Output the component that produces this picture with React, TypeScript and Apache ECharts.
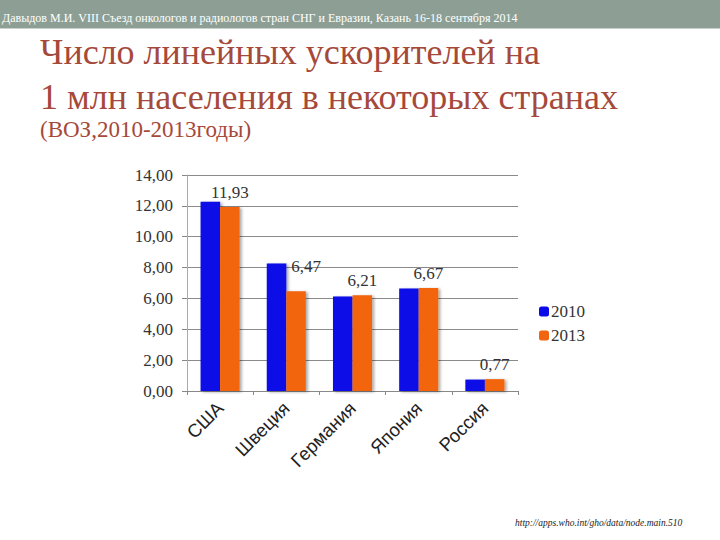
import React, { useEffect, useRef } from "react";
import * as echarts from "echarts";

const categories = ["США", "Швеция", "Германия", "Япония", "Россия"];
const series2010 = [12.26, 8.27, 6.13, 6.64, 0.74];
const series2013 = [11.93, 6.47, 6.21, 6.67, 0.77];
const seriesNames = ["2010", "2013"];
const yTicks = { min: 0, max: 14, interval: 2 };

const headerText =
  "Давыдов М.И. VIII Съезд онкологов и радиологов стран СНГ и Евразии, Казань 16-18 сентября 2014";
const titleLine1 = "Число линейных ускорителей на";
const titleLine2 = "1 млн населения в некоторых странах";
const subtitle = "(ВОЗ,2010-2013годы)";
const sourceUrl = "http://apps.who.int/gho/data/node.main.510";

const fmt = (v: number) => v.toFixed(2).replace(".", ",");

export default function App() {
  const ref = useRef<HTMLDivElement>(null);
  useEffect(() => {
    if (!ref.current) return;
    const chart = echarts.init(ref.current, null, { renderer: "svg" });
    const serif = "Liberation Serif";
    const sans = "Liberation Sans";
    const titleColor = "#a5493b";
    // label placement tweak for the Sweden bar (label sits right of the bar top in the reference)
    const labelShift: Record<number, number[]> = { 1: [10, -10] };
    chart.setOption({
      animation: false,
      backgroundColor: "#ffffff",
      graphic: [
        { type: "rect", left: 0, top: 0, shape: { width: 720, height: 28 }, style: { fill: "#8d9f95" } },
        { type: "rect", left: 0, top: 28, shape: { width: 720, height: 1 }, style: { fill: "#c9d3cd" } },
        {
          type: "text", left: 2, top: 12,
          style: { text: headerText, fill: "#ffffff", fontFamily: serif, fontSize: 12 },
        },
        {
          type: "text", left: 40, top: 34,
          style: { text: titleLine1, fill: titleColor, fontFamily: serif, fontSize: 36 },
        },
        {
          type: "text", left: 40, top: 79,
          style: { text: titleLine2, fill: titleColor, fontFamily: serif, fontSize: 36 },
        },
        {
          type: "text", left: 40, top: 118,
          style: { text: subtitle, fill: titleColor, fontFamily: serif, fontSize: 23 },
        },
        {
          type: "text", left: 515, top: 518,
          style: { text: sourceUrl, fill: "#222222", fontFamily: serif, fontSize: 9.5, fontStyle: "italic" },
        },
      ],
      legend: {
        orient: "vertical",
        left: 534,
        top: 298,
        itemWidth: 10,
        itemHeight: 10,
        itemGap: 7,
        data: seriesNames,
        textStyle: { fontFamily: serif, fontSize: 17, color: "#333333", padding: [0, 0, 0, -3] },
      },
      grid: { left: 187, right: 202, top: 175, bottom: 149 },
      xAxis: {
        type: "category",
        data: categories,
        axisLine: { show: true, lineStyle: { color: "#888888" } },
        axisTick: { show: true, length: 4, lineStyle: { color: "#888888" } },
        axisLabel: {
          rotate: 45,
          margin: 14,
          fontFamily: sans,
          fontSize: 18.5,
          color: "#222222",
          interval: 0,
        },
      },
      yAxis: {
        type: "value",
        min: yTicks.min,
        max: yTicks.max,
        interval: yTicks.interval,
        axisLine: { show: true, lineStyle: { color: "#aaaaaa" } },
        axisTick: { show: true, length: 5, inside: false, lineStyle: { color: "#888888" } },
        splitLine: { show: true, lineStyle: { color: "#8a8a8a", width: 1 } },
        axisLabel: {
          formatter: (v: number) => fmt(v),
          fontFamily: serif,
          fontSize: 17,
          color: "#333333",
          margin: 14,
        },
      },
      series: [
        {
          name: seriesNames[0],
          type: "bar",
          data: series2010,
          barGap: "0%",
          barCategoryGap: "41%",
          itemStyle: {
            color: "#0b0be8",
            shadowColor: "rgba(0,0,0,0.35)",
            shadowBlur: 3,
            shadowOffsetX: 2,
            shadowOffsetY: 1,
          },
        },
        {
          name: seriesNames[1],
          type: "bar",
          data: series2013.map((v, i) =>
            labelShift[i] ? { value: v, label: { offset: labelShift[i] } } : v
          ),
          barGap: "0%",
          barCategoryGap: "41%",
          itemStyle: {
            color: "#f26510",
            shadowColor: "rgba(0,0,0,0.35)",
            shadowBlur: 3,
            shadowOffsetX: 2,
            shadowOffsetY: 1,
          },
          label: {
            show: true,
            position: "top",
            distance: 6,
            formatter: (p: any) => fmt(p.value),
            fontFamily: serif,
            fontSize: 17,
            color: "#333333",
          },
        },
      ],
    });
    return () => chart.dispose();
  }, []);
  return (
    <div
      ref={ref}
      style={{ position: "fixed", left: 0, top: 0, width: 720, height: 540 }}
    />
  );
}
